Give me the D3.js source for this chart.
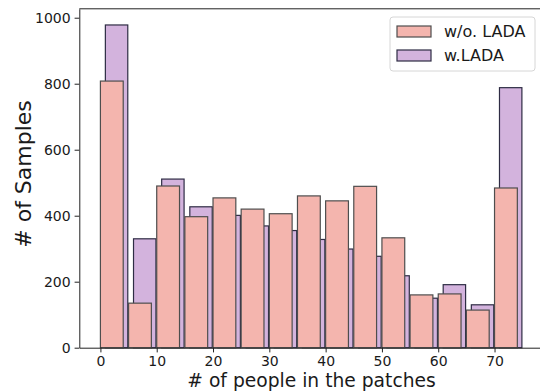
<!DOCTYPE html>
<html>
<head>
<meta charset="utf-8">
<script src="https://cdn.jsdelivr.net/npm/d3@7"></script>
<style>
  body { margin: 0; background: #fff; }
  svg { font-family: "DejaVu Sans", sans-serif; display: block; }
</style>
</head>
<body>
<div id="chart"></div>
<script>
// bin starts (# of people), 15 bins of width 5
const bins = [0, 5, 10, 15, 20, 25, 30, 35, 40, 45, 50, 55, 60, 65, 70]
const withoutLada = [808, 135, 490, 397, 454, 420, 406, 460, 445, 489, 333, 160, 163, 114, 484]
const withLada = [978, 330, 511, 427, 401, 369, 355, 328, 299, 277, 218, 150, 191, 130, 788]
const xTicks = [0, 10, 20, 30, 40, 50, 60, 70]
const yTicks = [0, 200, 400, 600, 800, 1000]
const seriesNames = ["w/o. LADA", "w.LADA"]

const width = 540, height = 391
const pink = "#f4b5ae", purple = "#d3b3dd"

const x = d3.scaleLinear().domain([-3.75, 78.75]).range([79.3, 543.8])
const y = d3.scaleLinear().domain([0, 1027]).range([347.7, 8.8])

const svg = d3.select("#chart").append("svg")
    .attr("width", width).attr("height", height)

// purple (behind), slightly shifted right
svg.append("g")
    .attr("fill", purple)
    .attr("stroke", "#2e2c44")
    .attr("stroke-width", 1.2)
  .selectAll("rect")
  .data(bins.map((b, i) => ({ b, v: withLada[i] })))
  .enter().append("rect")
    .attr("x", d => x(d.b + 0.88))
    .attr("width", d => x(d.b + 4.86) - x(d.b + 0.88))
    .attr("y", d => y(d.v))
    .attr("height", d => y(0) - y(d.v))

svg.append("g")
    .attr("fill", pink)
    .attr("stroke", "#4e4e4e")
    .attr("stroke-width", 1.2)
  .selectAll("rect")
  .data(bins.map((b, i) => ({ b, v: withoutLada[i] })))
  .enter().append("rect")
    .attr("x", d => x(d.b))
    .attr("width", d => x(d.b + 4.05) - x(d.b))
    .attr("y", d => y(d.v))
    .attr("height", d => y(0) - y(d.v))

// axes
svg.append("g")
    .attr("transform", "translate(0," + y(0) + ")")
    .call(d3.axisBottom(x).tickValues(xTicks).tickSize(4.7).tickPadding(4).tickSizeOuter(0))
svg.append("g")
    .attr("transform", "translate(" + x(-3.75) + ",0)")
    .call(d3.axisLeft(y).tickValues(yTicks).tickFormat(d3.format("d"))
      .tickSize(4.7).tickPadding(4).tickSizeOuter(0))

svg.selectAll(".tick text").attr("font-size", 14).attr("fill", "#1a1a1a")
  .attr("font-family", "DejaVu Sans")
svg.selectAll(".tick line").attr("stroke", "#222").attr("stroke-width", 1)
svg.selectAll(".domain").attr("stroke", "#222").attr("stroke-width", 1)

// top spine
svg.append("line")
    .attr("x1", x(-3.75)).attr("x2", x(78.75))
    .attr("y1", y(1027)).attr("y2", y(1027))
    .attr("stroke", "#222")

// labels
svg.append("text")
    .attr("x", (x(-3.75) + x(78.75)) / 2)
    .attr("y", 386.5)
    .attr("text-anchor", "middle")
    .attr("font-size", 18.7)
    .attr("fill", "#1a1a1a")
    .text("# of people in the patches")

svg.append("text")
    .attr("transform", "translate(30.5,174) rotate(-90)")
    .attr("text-anchor", "middle")
    .attr("font-size", 22)
    .attr("fill", "#1a1a1a")
    .text("# of Samples")

// legend
const legend = svg.append("g")
legend.append("rect")
    .attr("x", 390).attr("y", 17).attr("width", 145).attr("height", 54)
    .attr("rx", 3)
    .attr("fill", "#fff").attr("fill-opacity", 0.8)
    .attr("stroke", "#d6d6d6")
const legendItems = legend.selectAll("g.item")
  .data(seriesNames)
  .enter().append("g")
    .attr("transform", (d, i) => "translate(0," + (i * 24) + ")")
legendItems.append("rect")
    .attr("x", 397).attr("y", 26).attr("width", 34).attr("height", 11)
    .attr("fill", (d, i) => i ? purple : pink)
    .attr("stroke", (d, i) => i ? "#2e2c44" : "#4e4e4e")
    .attr("stroke-width", 1.2)
legendItems.append("text")
    .attr("x", 444).attr("y", 36.7)
    .attr("font-size", 16)
    .attr("fill", "#1a1a1a")
    .text(d => d)
</script>
</body>
</html>
